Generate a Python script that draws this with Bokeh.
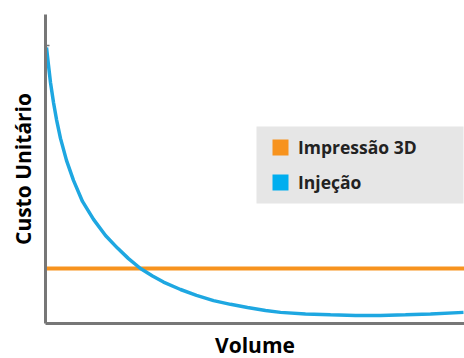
from bokeh.plotting import figure
from bokeh.models import Range1d, FixedTicker, Legend, LegendItem, LinearAxis, BoxAnnotation
from bokeh.embed import file_html
from bokeh.resources import INLINE

# --- data (arbitrary units 0-100) ---
volume = [0.24, 0.72, 1.19, 1.91, 2.63, 3.58, 5.01, 6.68, 8.83, 11.46, 14.32,
          17.18, 19.81, 22.67, 25.54, 28.16, 32.22, 36.04, 40.10, 44.15, 48.21,
          52.51, 56.09, 62.05, 68.02, 73.99, 79.95, 85.92, 91.89, 99.76]
custo_injecao = [89.3, 83.5, 78.0, 71.5, 66.0, 59.9, 52.8, 46.3, 39.5, 33.7, 28.5,
                 24.4, 21.0, 17.8, 15.4, 13.4, 11.0, 9.1, 7.4, 6.2, 5.2,
                 4.2, 3.6, 3.1, 2.8, 2.6, 2.6, 2.8, 3.1, 3.6]
volume_3d = [0, 100]
custo_3d = [17.8, 17.8]
y_tick = [90]
series_names = ["Impressão 3D", "Injeção"]
series_colors = ["#f7931e", "#1ea7e1"]
legend_colors = ["#f7931e", "#00aeef"]

FONT = "Open Sans"
AXIS_GRAY = "#777777"

p = figure(width=464, height=358, output_backend="svg", toolbar_location=None,
           x_range=Range1d(0, 100), y_range=Range1d(0, 100),
           frame_width=419, frame_height=309,
           min_border_left=45, min_border_right=0, min_border_top=14, min_border_bottom=35,
           x_axis_location=None, y_axis_location=None)
p.outline_line_color = None
p.xgrid.visible = False
p.ygrid.visible = False
p.background_fill_color = "white"
p.border_fill_color = "white"

yaxis = LinearAxis(ticker=FixedTicker(ticks=y_tick), major_label_overrides={y_tick[0]: ""},
                   axis_label="Custo Unitário")
xaxis = LinearAxis(ticker=FixedTicker(ticks=[]), axis_label="Volume")
for ax in (xaxis, yaxis):
    ax.axis_line_color = AXIS_GRAY
    ax.axis_line_width = 3
    ax.major_tick_line_color = AXIS_GRAY
    ax.major_tick_line_width = 1.5
    ax.major_tick_in = 4
    ax.major_tick_out = 0
    ax.minor_tick_line_color = None
    ax.major_label_text_font_size = "1px"
    ax.axis_label_text_font = FONT
    ax.axis_label_text_font_style = "bold"
    ax.axis_label_text_font_size = "21px"
    ax.axis_label_text_color = "#000000"
    ax.major_label_standoff = 0
xaxis.axis_label_standoff = 7
yaxis.axis_label_standoff = 9
p.add_layout(yaxis, "left")
p.add_layout(xaxis, "below")

p.line(volume_3d, custo_3d, line_color=series_colors[0], line_width=4)
p.line(volume, custo_injecao, line_color=series_colors[1], line_width=3.5)

# legend background panel
box = BoxAnnotation(left=256, right=463, top=126, bottom=203,
                    left_units="canvas", right_units="canvas",
                    top_units="canvas", bottom_units="canvas",
                    fill_color="#e6e6e6", fill_alpha=1, line_color=None)
p.add_layout(box)

# off-screen area renderers for square legend swatches
nan = float("nan")
sq0 = p.quad(left=[nan], right=[nan], top=[nan], bottom=[nan],
             fill_color=legend_colors[0], line_color=None)
sq1 = p.quad(left=[nan], right=[nan], top=[nan], bottom=[nan],
             fill_color=legend_colors[1], line_color=None)

legend = Legend(items=[LegendItem(label=series_names[0], renderers=[sq0]),
                       LegendItem(label=series_names[1], renderers=[sq1])],
                location=(225, 129))
legend.background_fill_alpha = 0
legend.border_line_color = None
legend.padding = 13
legend.spacing = 11
legend.glyph_width = 20
legend.glyph_height = 20
legend.label_height = 20
legend.label_standoff = 8
legend.label_text_font = FONT
legend.label_text_font_style = "bold"
legend.label_text_font_size = "17.5px"
legend.label_text_color = "#222222"
p.add_layout(legend, "center")

open("out.html", "w").write(file_html(p, INLINE))
